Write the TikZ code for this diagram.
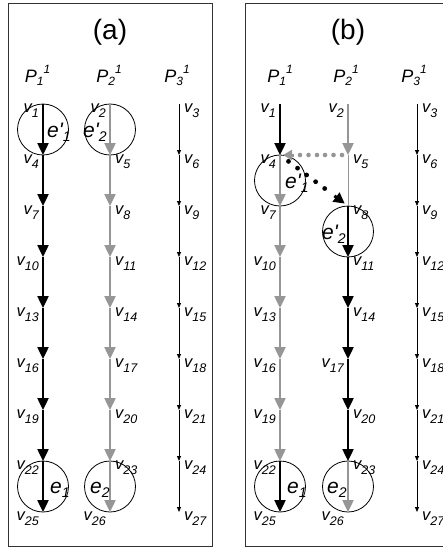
\documentclass[tikz,border=0pt]{standalone}
\usepackage{fontspec}
\setmainfont{Liberation Sans}
\usetikzlibrary{arrows.meta,calc}
\definecolor{gr}{RGB}{150,150,150}
\definecolor{framecol}{RGB}{50,50,50}
% vertex label: italic v with a lowered index
\newcommand{\vsub}[1]{\raisebox{-5pt}{\fontsize{12.5}{12.5}\selectfont #1}}
\newcommand{\vv}[1]{v\vsub{#1}}
% edge label index
\newcommand{\esub}[1]{\raisebox{-4pt}{\fontsize{14}{14}\selectfont #1}}
% process label P_i^1
\newcommand{\proc}[1]{P\raisebox{-3pt}{\fontsize{12}{12}\selectfont #1}\raisebox{8.5pt}{\fontsize{12}{12}\selectfont 1}}

\begin{document}
\begin{tikzpicture}[x=1pt,y=-1pt,
  edgeblk/.style={line width=2.4pt,black,-{Triangle[length=12pt,width=11pt]}},
  edgegry/.style={line width=2.4pt,gr,-{Triangle[length=12pt,width=11pt]}},
  edgethin/.style={line width=0.8pt,black,-{Triangle[length=5pt,width=4pt]}},
  vlab/.style={inner sep=0pt,font=\fontsize{16.5}{16.5}\selectfont\itshape},
  lft/.style={vlab,anchor=north east,xshift=-4pt},
  rgt/.style={vlab,anchor=north west,xshift=5pt},
  ring/.style={draw,circle,minimum size=51pt,inner sep=0pt,line width=0.8pt},
  elab/.style={inner sep=0pt,anchor=base west,font=\fontsize{21}{21}\selectfont\itshape},
  plab/.style={inner sep=0pt,anchor=base,font=\fontsize{18}{18}\selectfont\itshape},
  title/.style={inner sep=0pt,font=\fontsize{28}{28}\selectfont},
  frame/.style={draw=framecol,line width=0.8pt},
]
\useasboundingbox (0,0) rectangle (443,550);

% panel frames
\draw[frame] (8,3) rectangle (212,546);
\draw[frame] (245,3) rectangle (460,546);

% titles
\node[title] (ta) at (110,32) {(a)};
\node[title] (tb) at (348,32) {(b)};

% process headers
\node[plab] (pa1) at (37.5,82) {\proc{1}};
\node[plab] (pa2) at (109,82) {\proc{2}};
\node[plab] (pa3) at (177,82) {\proc{3}};
\node[plab] (pb1) at (280,82) {\proc{1}};
\node[plab] (pb2) at (346,82) {\proc{2}};
\node[plab] (pb3) at (414,82) {\proc{3}};

% vertices: row k, column c -> v_{3k+c}
\foreach \p/\xa/\xb/\xc in {a/43/110/179, b/280/348/417}{
  \foreach \k in {0,...,8}{
    \pgfmathtruncatemacro\na{3*\k+1}
    \pgfmathtruncatemacro\nb{3*\k+2}
    \pgfmathtruncatemacro\nc{3*\k+3}
    \coordinate (\p-\na) at (\xa,104+51*\k);
    \coordinate (\p-\nb) at (\xb,104+51*\k);
    \coordinate (\p-\nc) at (\xc,104+51*\k);
  }
}

% circles around the marked edges
\node[ring] (ea1) at ($(a-1)!0.5!(a-4)$) {};
\node[ring] (ea2) at ($(a-2)!0.5!(a-5)$) {};
\node[ring] (ea3) at ($(a-22)!0.5!(a-25)$) {};
\node[ring] (ea4) at ($(a-23)!0.5!(a-26)$) {};
\node[ring] (eb1) at ($(b-4)!0.5!(b-7)$) {};
\node[ring] (eb2) at ($(b-8)!0.5!(b-11)$) {};
\node[ring] (eb3) at ($(b-22)!0.5!(b-25)$) {};
\node[ring] (eb4) at ($(b-23)!0.5!(b-26)$) {};

% panel (a) edges
\foreach \n in {1,4,...,22}{\pgfmathtruncatemacro\m{\n+3}\draw[edgeblk] (a-\n) -- (a-\m);}
\foreach \n in {2,5,...,23}{\pgfmathtruncatemacro\m{\n+3}\draw[edgegry] (a-\n) -- (a-\m);}
\foreach \n in {3,6,...,24}{\pgfmathtruncatemacro\m{\n+3}\draw[edgethin] (a-\n) -- (a-\m);}

% panel (b) edges
\draw[edgeblk] (b-1) -- (b-4);
\foreach \n in {4,7,...,19}{\pgfmathtruncatemacro\m{\n+3}\draw[edgegry] (b-\n) -- (b-\m);}
\draw[edgeblk] (b-22) -- (b-25);
\draw[edgegry] (b-2) -- (b-5);
\draw[gr,line width=0.8pt] (b-5) -- (b-8);
\foreach \n in {8,11,...,20}{\pgfmathtruncatemacro\m{\n+3}\draw[edgeblk] (b-\n) -- (b-\m);}
\draw[edgegry] (b-23) -- (b-26);
\foreach \n in {3,6,...,24}{\pgfmathtruncatemacro\m{\n+3}\draw[edgethin] (b-\n) -- (b-\m);}

% dotted transfer arrow v5 -> v4 (grey)
\foreach \t in {0.088,0.213,0.338,0.456,0.581,0.706}
  \fill[gr] ($(b-5)!\t!(b-4)$) circle (2.3pt);
\draw[gr,line width=3pt,-{Triangle[length=9pt,width=10pt]}]
  ($(b-5)!0.80!(b-4)$) -- ($(b-5)!0.955!(b-4)$);
% dotted transfer arrow v4 -> v8 (black)
\foreach \t in {0.125,0.258,0.391,0.524,0.657}
  \fill[black] ($(b-4)!\t!(b-8)$) circle (2.4pt);
\draw[black,line width=3pt,-{Triangle[length=11pt,width=11pt]}]
  ($(b-4)!0.80!(b-8)$) -- ($(b-4)!0.953!(b-8)$);

% vertex labels, panel (a)
\foreach \n in {1,4,...,25,2,26}{\node[lft] (la-\n) at (a-\n) {\vv{\n}};}
\foreach \n in {5,8,...,23,3,6,...,27}{\node[rgt] (la-\n) at (a-\n) {\vv{\n}};}
% vertex labels, panel (b)
\foreach \n in {1,4,...,25,2,17,26}{\node[lft] (lb-\n) at (b-\n) {\vv{\n}};}
\foreach \n in {5,8,11,14,20,23,3,6,...,27}{\node[rgt] (lb-\n) at (b-\n) {\vv{\n}};}

% edge labels
\node[elab] (xa1) at ($(ea1.center)+(4,7.5)$) {e\textquotesingle\esub{1}};
\node[elab] (xa2) at ($(ea2.center)+(-27,7.5)$) {e\textquotesingle\esub{2}};
\node[elab] (xa3) at ($(ea3.center)+(7,6.5)$) {e\esub{1}};
\node[elab] (xa4) at ($(ea4.center)+(-20,6.5)$) {e\esub{2}};
\node[elab] (xb1) at ($(eb1.center)+(5,7.5)$) {e\textquotesingle\esub{1}};
\node[elab] (xb2) at ($(eb2.center)+(-26,7.5)$) {e\textquotesingle\esub{2}};
\node[elab] (xb3) at ($(eb3.center)+(7,6.5)$) {e\esub{1}};
\node[elab] (xb4) at ($(eb4.center)+(-21,6.5)$) {e\esub{2}};
\end{tikzpicture}
\end{document}
